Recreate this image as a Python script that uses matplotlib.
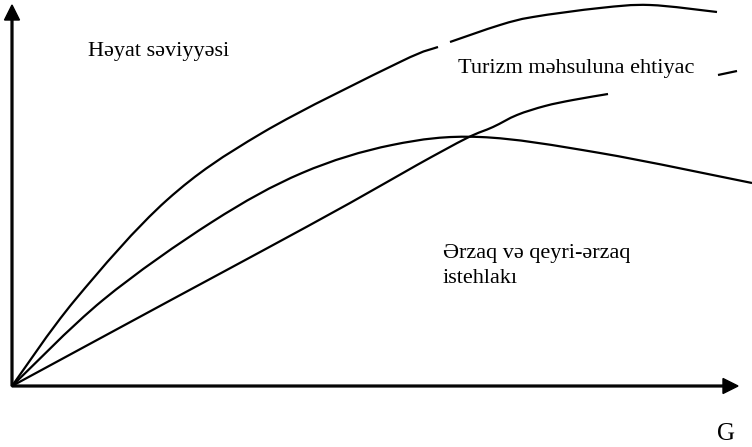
import matplotlib.pyplot as plt
from matplotlib.path import Path
from matplotlib.patches import PathPatch

plt.rcParams['font.family'] = ['Liberation Serif', 'DejaVu Serif']

# curves (origin at the axes corner, units ~ pixels)
heyat_x1 = [0, 63, 155, 250, 388, 426]
heyat_y1 = [0, 86, 186, 253, 324, 339]
heyat_x2 = [438, 488, 521, 588, 638, 705]
heyat_y2 = [344, 361, 369, 378, 381, 374]

erzaq_x = [0, 91, 200, 290, 380, 468, 588, 740]
erzaq_y = [0, 86, 164, 213, 241, 249, 233, 203]

turizm_x = [0, 159, 250, 338, 405, 455, 481, 505, 533, 561, 596]
turizm_y = [0, 86, 135, 183, 221, 248, 259, 271, 280, 286, 292]
turizm_tail_x = [706, 725]
turizm_tail_y = [311, 315]


def smooth_line(ax, xs, ys, lw=1.6):
    # smooth curve through the points (Catmull-Rom as cubic Bezier)
    pts = list(zip(xs, ys))
    n = len(pts)
    verts = [pts[0]]
    codes = [Path.MOVETO]
    for i in range(n - 1):
        p0 = pts[max(i - 1, 0)]
        p1 = pts[i]
        p2 = pts[i + 1]
        p3 = pts[min(i + 2, n - 1)]
        c1 = (p1[0] + (p2[0] - p0[0]) / 6, p1[1] + (p2[1] - p0[1]) / 6)
        c2 = (p2[0] - (p3[0] - p1[0]) / 6, p2[1] - (p3[1] - p1[1]) / 6)
        verts += [c1, c2, p2]
        codes += [Path.CURVE4] * 3
    ax.add_patch(PathPatch(Path(verts, codes), fill=False, lw=lw,
                           edgecolor='black', capstyle='butt'))


fig = plt.figure(figsize=(7.52, 4.47), dpi=100)
ax = fig.add_axes([0, 0, 1, 1])
ax.set_xlim(-12, 740)
ax.set_ylim(-61, 386)
ax.axis('off')

smooth_line(ax, heyat_x1, heyat_y1)
smooth_line(ax, heyat_x2, heyat_y2)
smooth_line(ax, erzaq_x, erzaq_y)
smooth_line(ax, turizm_x, turizm_y)
smooth_line(ax, turizm_tail_x, turizm_tail_y)

# axes with arrows
ax.arrow(0, 0, 0, 381, width=1.8, head_width=15, head_length=15,
         length_includes_head=True, color='black')
ax.arrow(0, 0, 726, 0, width=1.8, head_width=15, head_length=15,
         length_includes_head=True, color='black')

fs = 16
ax.text(76, 330, 'Həyat səviyyəsi', fontsize=fs, va='baseline')
ax.text(446, 313, 'Turizm məhsuluna ehtiyac', fontsize=fs, va='baseline')
ax.text(431, 128, 'Ərzaq və qeyri-ərzaq', fontsize=fs, va='baseline')
ax.text(431, 103, 'istehlakı', fontsize=fs, va='baseline')
ax.text(705, -54, 'G', fontsize=18, va='baseline')

fig.savefig('out.png', dpi=100)
